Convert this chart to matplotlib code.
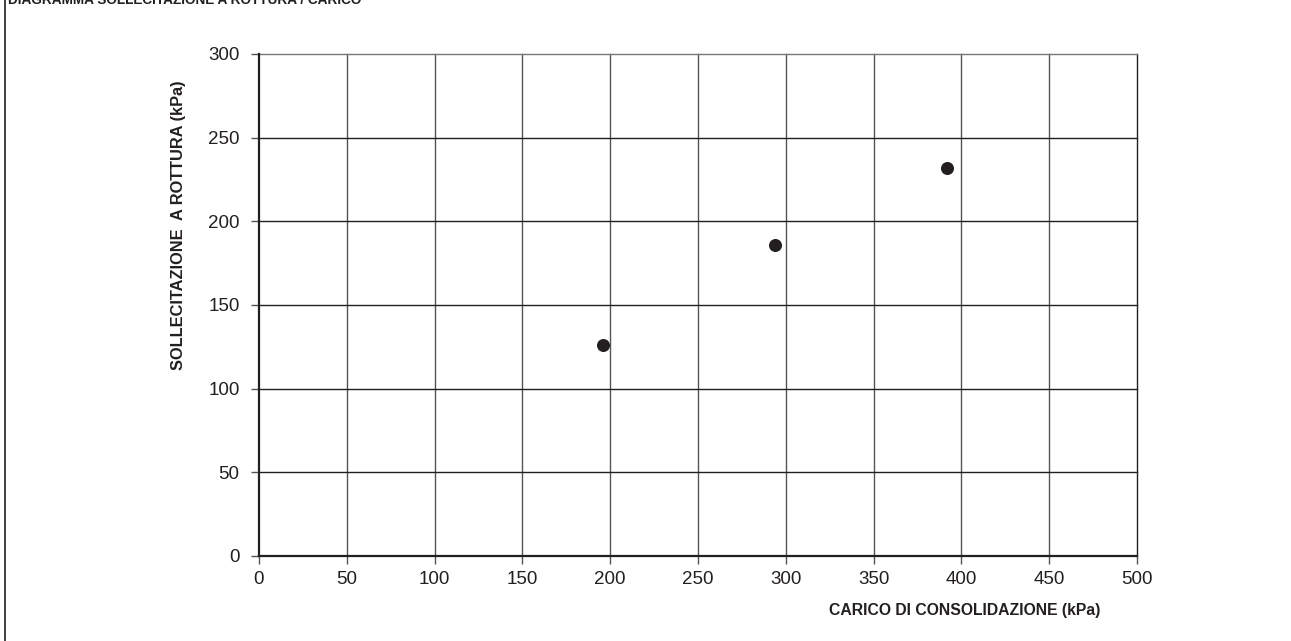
import matplotlib
matplotlib.use("Agg")
from matplotlib import pyplot as plt
from matplotlib.lines import Line2D

plt.rcParams['font.family'] = ['Liberation Sans', 'DejaVu Sans']

# dati
carico = [196, 294, 392]          # kPa
sollecitazione = [126, 186, 232]  # kPa
xticks = [0, 50, 100, 150, 200, 250, 300, 350, 400, 450, 500]
yticks = [0, 50, 100, 150, 200, 250, 300]

fig = plt.figure(figsize=(12.91, 6.41), dpi=100)
ax = fig.add_axes([259/1291, 1 - 556/641, (1137 - 259)/1291, (556 - 54)/641])

ax.scatter(carico, sollecitazione, s=70, color='#231f20', zorder=5, clip_on=False)

ax.set_xlim(0, 500)
ax.set_ylim(0, 300)
ax.set_xticks(xticks)
ax.set_yticks(yticks)
ax.tick_params(axis='both', labelsize=13.5, color='#555555', length=6, width=1,
               direction='out', labelcolor='#231f20')
ax.tick_params(axis='x', pad=5)
ax.tick_params(axis='y', pad=8)

# griglia: verticali grigie, orizzontali nere
for x in xticks[1:]:
    ax.axvline(x, color='#555555' if x < 500 else '#231f20', lw=1.0, zorder=1,
               clip_on=False)
for y in yticks[1:]:
    ax.axhline(y, color='#231f20' if y < 300 else '#777777', lw=1.0, zorder=1,
               clip_on=False)

ax.spines['top'].set_visible(False)
ax.spines['right'].set_visible(False)
ax.spines['left'].set_linewidth(1.6)
ax.spines['bottom'].set_linewidth(1.6)
ax.spines['left'].set_color('#231f20')
ax.spines['bottom'].set_color('#231f20')

fig.text(178/1291, 1 - 225/641, 'SOLLECITAZIONE  A ROTTURA (kPa)', rotation=90,
         ha='center', va='center', fontsize=11.8, fontweight='bold', color='#231f20')
fig.text(1100/1291, 1 - 611/641, 'CARICO DI CONSOLIDAZIONE (kPa)',
         ha='right', va='center', fontsize=11.3, fontweight='bold', color='#231f20')

# titolo tagliato in alto
fig.text(8/1291, 1 - 4/641, 'DIAGRAMMA SOLLECITAZIONE A ROTTURA / CARICO',
         ha='left', va='baseline', fontsize=9.8, fontweight='bold', color='#231f20')

# bordo sinistro
fig.add_artist(Line2D([4.5/1291, 4.5/1291], [0, 1], transform=fig.transFigure,
                      color='#231f20', lw=1.2))

fig.savefig('out.png', dpi=100)
